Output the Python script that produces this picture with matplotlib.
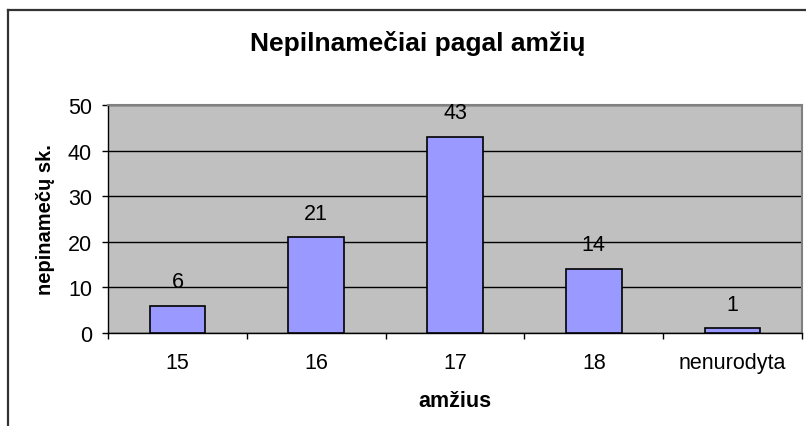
import matplotlib.pyplot as plt
from matplotlib.lines import Line2D

amzius = ['15', '16', '17', '18', 'nenurodyta']
nepilnameciai = [6, 21, 43, 14, 1]
y_ticks = [0, 10, 20, 30, 40, 50]

plt.rcParams['font.family'] = ['Liberation Sans', 'DejaVu Sans']

fig = plt.figure(figsize=(8.06, 4.27), dpi=100)
fig.patch.set_facecolor('white')

# remelis (matosi tik kaire ir virsus)
fig.add_artist(Line2D([8 / 806, 8 / 806], [0, 1 - 11 / 427], color='#333333', lw=1.6))
fig.add_artist(Line2D([8 / 806, 1], [1 - 11 / 427, 1 - 11 / 427], color='#333333', lw=1.6))

ax = fig.add_axes([108 / 806, 1 - 334 / 427, 694 / 806, 228 / 427])
ax.set_facecolor('#C0C0C0')

x = range(len(amzius))
bars = ax.bar(x, nepilnameciai, width=0.4, color='#9999FF', edgecolor='black', linewidth=1.2, zorder=3)

for i, v in enumerate(nepilnameciai):
    ax.text(i, v + 5.3, str(v), ha='center', va='center', fontsize=15.5, zorder=4)

ax.set_xlim(-0.5, len(amzius) - 0.5)
ax.set_ylim(0, 50)
ax.set_yticks(y_ticks)
ax.yaxis.grid(True, color='black', linewidth=1)
ax.set_axisbelow(True)

ax.set_xticks(x)
ax.set_xticklabels(amzius, fontsize=15.5)
ax.tick_params(axis='x', length=0, pad=14)
ax.set_xticks([i + 0.5 for i in range(-1, len(amzius))], minor=True)
ax.tick_params(axis='x', which='minor', length=4.5, width=1, color='black', direction='out')
ax.tick_params(axis='y', labelsize=15.5, length=4.5, width=1, direction='out', pad=7)

for s in ['top', 'right']:
    ax.spines[s].set_color('#808080')
    ax.spines[s].set_linewidth(1.5)
for s in ['left', 'bottom']:
    ax.spines[s].set_color('black')
    ax.spines[s].set_linewidth(1)

ax.set_xlabel('amžius', fontsize=15.5, fontweight='bold', labelpad=12)
ax.set_ylabel('nepinamečų sk.', fontsize=14.5, fontweight='bold', labelpad=9)

fig.text(418 / 806, 1 - 44 / 427, 'Nepilnamečiai pagal amžių', ha='center', va='center',
         fontsize=19, fontweight='bold')

fig.savefig('out.png', dpi=100)
